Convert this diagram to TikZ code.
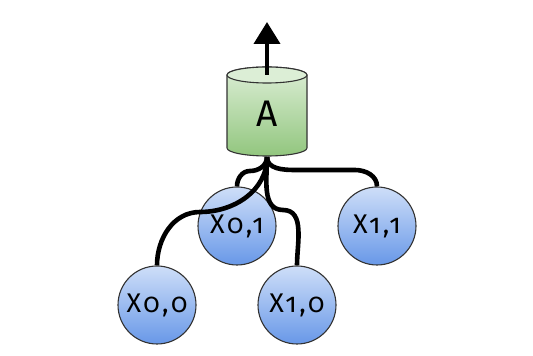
\documentclass[tikz,border=0pt]{standalone}
\usepackage{fontspec}
\setmainfont[Numbers=OldStyle]{Fira Sans}
\newfontfamily\leaffont[Numbers=OldStyle,LetterSpace=9]{Fira Sans}
\usetikzlibrary{arrows.meta}
\definecolor{bordergray}{HTML}{333333}
\definecolor{bluetop}{RGB}{206,222,248}
\definecolor{bluebot}{RGB}{104,152,232}
\definecolor{greentop}{RGB}{220,238,214}
\definecolor{greenbot}{RGB}{146,198,126}
\tikzset{
  leaf/.style={circle, draw=bordergray, line width=1.1pt, minimum size=78pt, inner sep=0pt,
    top color=bluetop, bottom color=bluebot, font=\leaffont\fontsize{27}{27}\selectfont},
  conn/.style={line width=4.6pt, black},
  outarrow/.style={line width=4pt, -{Triangle[width=26pt,length=22pt]}},
}
\begin{document}
\begin{tikzpicture}[x=1pt,y=1pt]
\useasboundingbox (0,0) rectangle (533,356);
% cylinder
\shade[top color=greentop, bottom color=greenbot, draw=bordergray, line width=1.1pt]
  (227,281) -- (227,208) arc[start angle=180,end angle=360,x radius=40,y radius=8]
  -- (307,281) arc[start angle=0,end angle=180,x radius=40,y radius=8] -- cycle;
\draw[fill=greentop, draw=bordergray, line width=1.1pt] (267,281) ellipse[x radius=40,y radius=8];
\node[minimum width=80pt, minimum height=89pt, inner sep=0pt, font=\fontsize{37}{37}\selectfont] (cyl) at (267,242) {A};
\coordinate (top) at (267,281);
\coordinate (out) at (267,334);
\draw[outarrow] (top) -- (out);
% leaves
\node[leaf] (x00) at (157,51) {X0,0};
\node[leaf] (x01) at (237,130) {X0,1};
\node[leaf] (x10) at (297,51) {X1,0};
\node[leaf] (x11) at (377,130) {X1,1};
\coordinate (src) at (267,199);
\coordinate (w11a) at (295,186);
\coordinate (w11b) at (355,186);
\coordinate (w01) at (250,185);
\coordinate (w00) at (200,144);
\coordinate (w10) at (283,146);
\draw[conn] (src) to[out=-90,in=180] (w11a) -- (w11b) to[out=0,in=90] (x11.north);
\draw[conn] (src) to[out=-90,in=0] (w01) to[out=180,in=90] (x01.north);
\draw[conn] (src) to[out=-90,in=0] (w00) to[out=180,in=90] (x00.north);
\draw[conn] (src) to[out=-90,in=180] (w10) to[out=0,in=90] (x10.north);
\end{tikzpicture}
\end{document}
